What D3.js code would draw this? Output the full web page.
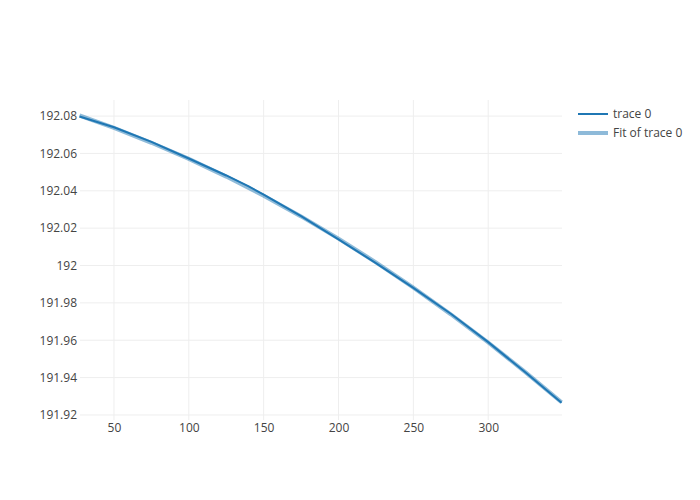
<!DOCTYPE html>
<html><head><meta charset="utf-8">
<script src="https://cdn.jsdelivr.net/npm/d3@7"></script>
<style>body{margin:0;background:#fff}svg{font-family:"Open Sans",sans-serif}</style>
</head><body><svg id="c" width="700" height="500"></svg>
<script>
const xValues = [27, 50, 75, 100, 125, 140, 150, 175, 200, 225, 250, 275, 300, 325, 349];
const traceValues = [192.0798, 192.0740, 192.0662, 192.0573, 192.0482, 192.0424, 192.0379, 192.0264, 192.0140, 192.0013, 191.9880, 191.9742, 191.9590, 191.9427, 191.9265];
const fitX = [27, 50, 75, 100, 125, 150, 175, 200, 225, 250, 275, 300, 325, 349];
const fitValues = [192.0803, 192.0737, 192.0657, 192.0571, 192.0476, 192.0374, 192.0263, 192.0144, 192.0017, 191.9882, 191.9739, 191.9588, 191.9428, 191.9268];
const xTicks = [50, 100, 150, 200, 250, 300];
const yTicks = [191.92, 191.94, 191.96, 191.98, 192.00, 192.02, 192.04, 192.06, 192.08];
const seriesNames = ["trace 0", "Fit of trace 0"];

const svg = d3.select("#c");
const L = 80, R = 562, T = 100, B = 420;
const x = d3.scaleLinear().domain([27.3, 349.3]).range([L, R]);
const y = d3.scaleLinear().domain([191.9173, 192.0886]).range([B, T]);

const g = svg.append("g");
g.selectAll(".gx").data(xTicks).enter().append("line")
  .attr("x1", d => x(d)).attr("x2", d => x(d)).attr("y1", T).attr("y2", B)
  .attr("stroke", "#eee").attr("stroke-width", 1);
g.selectAll(".gy").data(yTicks).enter().append("line")
  .attr("x1", L).attr("x2", R).attr("y1", d => y(d)).attr("y2", d => y(d))
  .attr("stroke", "#eee").attr("stroke-width", 1);

const xAxis = d3.axisBottom(x).tickValues(xTicks).tickSize(0).tickPadding(3);
const gx = svg.append("g").attr("transform", `translate(0,${B})`).call(xAxis);
gx.select(".domain").remove();
gx.selectAll("text").attr("fill", "#444").style("font-size", "12px").style("font-family", "'Open Sans',sans-serif");

const yAxis = d3.axisLeft(y).tickValues(yTicks).tickSize(0).tickPadding(3).tickFormat(d3.format(".2~f"));
const gy = svg.append("g").attr("transform", `translate(${L},0)`).call(yAxis);
gy.select(".domain").remove();
gy.selectAll("text").attr("fill", "#444").style("font-size", "12px").style("font-family", "'Open Sans',sans-serif");

const line = d3.line().x(d => x(d[0])).y(d => y(d[1]));
svg.append("path").datum(xValues.map((v, i) => [v, traceValues[i]]))
  .attr("d", line).attr("fill", "none").attr("stroke", "#1f77b4").attr("stroke-width", 2);
svg.append("path").datum(fitX.map((v, i) => [v, fitValues[i]]))
  .attr("d", line).attr("fill", "none").attr("stroke", "#1f77b4").attr("stroke-width", 4).attr("opacity", 0.5);

const leg = svg.append("g");
seriesNames.forEach((n, i) => {
  const yy = 114 + i * 19;
  leg.append("line").attr("x1", 578).attr("x2", 608).attr("y1", yy).attr("y2", yy)
    .attr("stroke", "#1f77b4").attr("stroke-width", i === 0 ? 2 : 4).attr("opacity", i === 0 ? 1 : 0.5);
  leg.append("text").attr("x", 613).attr("y", yy + 4).attr("fill", "#444")
    .style("font-size", "12px").text(n);
});
</script></body></html>
